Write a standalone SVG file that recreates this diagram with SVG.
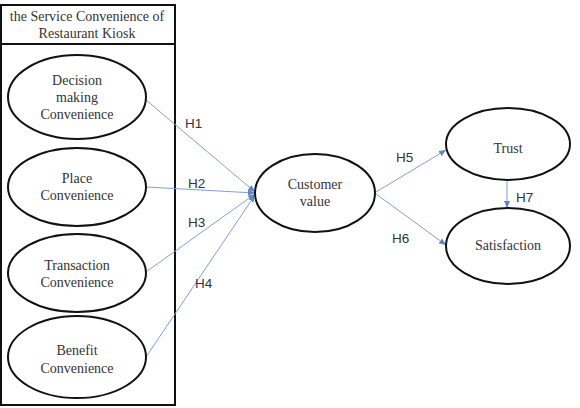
<svg xmlns="http://www.w3.org/2000/svg" width="580" height="408" viewBox="0 0 580 408">
<style>
.node ellipse{fill:#fff;stroke:#111;stroke-width:2}
.t{font-family:"Liberation Serif",serif;font-size:14px;fill:#333;text-anchor:middle}
.h{font-family:"Liberation Sans",sans-serif;font-size:13.5px;fill:#333}
.c line{stroke:#7f9fd3;stroke-width:1;marker-end:url(#a)}
</style>
<defs>
<marker id="a" markerWidth="8" markerHeight="8" refX="7" refY="4" orient="auto" markerUnits="userSpaceOnUse">
<path d="M0,1 L7,4 L0,7 Z" fill="#5b85c8"/>
</marker>
</defs>
<rect x="1" y="5" width="174" height="400" fill="none" stroke="#111" stroke-width="2"/>
<line x1="1" y1="44" x2="175" y2="44" stroke="#111" stroke-width="2"/>
<text class="t" x="87" y="21">the Service Convenience of</text>
<text class="t" x="87" y="38">Restaurant Kiosk</text>
<g class="c">
<line x1="146" y1="100" x2="255" y2="192"/>
<line x1="146" y1="187" x2="255" y2="193"/>
<line x1="146" y1="272" x2="255" y2="194"/>
<line x1="146" y1="357" x2="255" y2="195"/>
<line x1="376" y1="192" x2="446" y2="150"/>
<line x1="376" y1="194" x2="446" y2="245"/>
<line x1="507" y1="180" x2="507" y2="208"/>
</g>
<g id="decision" class="node"><ellipse cx="77" cy="97" rx="69" ry="42"/>
<text class="t" x="77" y="85">Decision</text><text class="t" x="77" y="102">making</text><text class="t" x="77" y="119">Convenience</text></g>
<g id="place" class="node"><ellipse cx="77" cy="187" rx="69" ry="39"/>
<text class="t" x="77" y="183">Place</text><text class="t" x="77" y="200">Convenience</text></g>
<g id="transaction" class="node"><ellipse cx="77" cy="273" rx="69" ry="39"/>
<text class="t" x="77" y="270">Transaction</text><text class="t" x="77" y="287">Convenience</text></g>
<g id="benefit" class="node"><ellipse cx="77" cy="357" rx="69" ry="41"/>
<text class="t" x="77" y="355">Benefit</text><text class="t" x="77" y="373">Convenience</text></g>
<g id="customer" class="node"><ellipse cx="315" cy="193" rx="60" ry="39"/>
<text class="t" x="315" y="189">Customer</text><text class="t" x="315" y="206">value</text></g>
<g id="trust" class="node"><ellipse cx="508" cy="144" rx="62" ry="36"/>
<text class="t" x="508" y="153">Trust</text></g>
<g id="satisfaction" class="node"><ellipse cx="508" cy="246" rx="62" ry="38"/>
<text class="t" x="508" y="250">Satisfaction</text></g>
<text class="h" x="185" y="128">H1</text>
<text class="h" x="188" y="188">H2</text>
<text class="h" x="188" y="227">H3</text>
<text class="h" x="195" y="288">H4</text>
<text class="h" x="396" y="162">H5</text>
<text class="h" x="392" y="243">H6</text>
<text class="h" x="516" y="202">H7</text>
</svg>
